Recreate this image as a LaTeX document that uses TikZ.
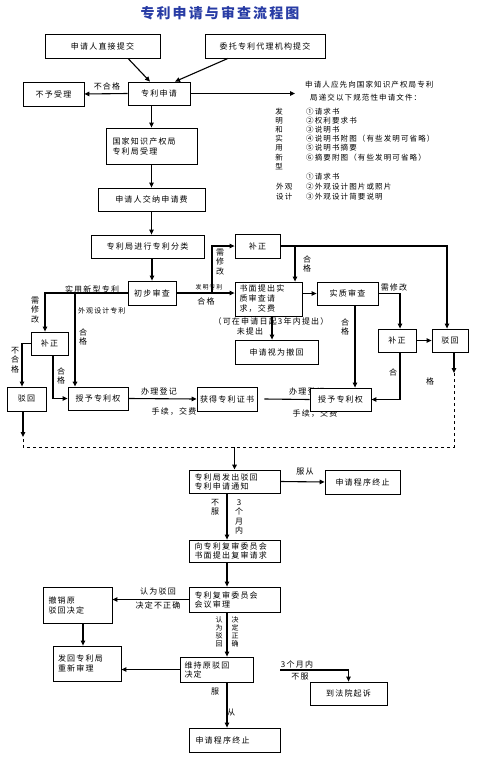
\documentclass[tikz,border=0pt]{standalone}
\usepackage{fontspec}
\setmainfont{Noto Sans CJK SC}[LetterSpace=15]
\usetikzlibrary{arrows.meta}
\definecolor{titleblue}{RGB}{40,60,165}
\newcommand{\fs}{\fontsize{8}{10}\selectfont}
\newcommand{\fsl}{\fontsize{7.5}{9}\selectfont}
\begin{document}
\begin{tikzpicture}[x=1pt,y=-1pt,
 box/.style={draw, line width=0.8pt, fill=white, inner sep=0pt, font=\fs},
 arr/.style={line width=1.1pt, -{Triangle[length=5pt,width=4.5pt]}},
 ln/.style={line width=1.1pt},
 lab/.style={inner sep=0pt, font=\fs},
 vlab/.style={inner sep=0pt, font=\fontsize{8}{9.5}\selectfont, align=center},
 vlabs/.style={inner sep=0pt, font=\fontsize{7}{8}\selectfont, align=center},
 lst/.style={inner sep=0pt, font=\fsl, anchor=west},
 ]
\fill[white] (0,0) rectangle (490,771);
\useasboundingbox (0,0) rectangle (490,771);

\node[font=\fontsize{14}{16}\selectfont\bfseries, text=titleblue, inner sep=0pt] (title) at (220,13) {专利申请与审查流程图};

% labels partly hidden by box
\node[lab] (l20) at (307,391) {办理登记};
\node[lab] (l21) at (315,414) {手续，交费};

% boxes
\node[box, minimum width=115pt, minimum height=24pt] (a1) at (102.5,46) {申请人直接提交};
\node[box, minimum width=120pt, minimum height=24pt] (a2) at (265,46) {委托专利代理机构提交};
\node[box, minimum width=62pt, minimum height=23pt] (sq) at (159,93.5) {专利申请};
\node[box, minimum width=61pt, minimum height=24pt] (by) at (53.5,94) {不予受理};
\node[box, minimum width=91pt, minimum height=36pt, align=left, text width=78pt] (gj) at (151.5,146) {国家知识产权局\\专利局受理};
\node[box, minimum width=107pt, minimum height=23pt] (jn) at (151.5,199.5) {申请人交纳申请费};
\node[box, minimum width=113pt, minimum height=23pt] (fl) at (147.5,246.5) {专利局进行专利分类};
\node[box, minimum width=48pt, minimum height=24pt] (cb) at (152,293) {初步审查};
\node[box, minimum width=45pt, minimum height=24pt] (bz1) at (257.5,246) {补正};
\node[box, minimum width=67pt, minimum height=34pt, align=left, text width=58pt] (sm) at (268.5,299) {书面提出实\\质审查请\\求，交费};
\node[box, minimum width=83pt, minimum height=24pt] (sw) at (276.5,352) {申请视为撤回};
\node[box, minimum width=61pt, minimum height=23pt] (sz) at (347.5,293.5) {实质审查};
\node[box, minimum width=38pt, minimum height=23pt] (bz2) at (397,340.5) {补正};
\node[box, minimum width=36pt, minimum height=23pt] (bh2) at (450,340.5) {驳回};
\node[box, minimum width=37pt, minimum height=23pt] (bz3) at (49.5,343.5) {补正};
\node[box, minimum width=39pt, minimum height=24pt] (bh1) at (26.5,399) {驳回};
\node[box, minimum width=60pt, minimum height=23pt] (sq1) at (98,398.5) {授予专利权};
\node[box, minimum width=60pt, minimum height=24pt] (zs) at (227,399) {获得专利证书};
\node[box, minimum width=61pt, minimum height=23pt] (sq2) at (340.5,399.5) {授予专利权};
\node[box, minimum width=91pt, minimum height=23pt, align=left, text width=80pt, font=\fontsize{8}{9}\selectfont] (tz) at (234.5,481.5) {专利局发出驳回\\专利申请通知};
\node[box, minimum width=75pt, minimum height=24pt] (zz1) at (362.5,482) {申请程序终止};
\node[box, minimum width=91pt, minimum height=22pt, align=left, text width=80pt, font=\fontsize{8}{9}\selectfont] (fs) at (234.5,551) {向专利复审委员会\\书面提出复审请求};
\node[box, minimum width=91pt, minimum height=25pt, align=left, text width=80pt, font=\fontsize{8}{9}\selectfont] (hy) at (234.5,599.5) {专利复审委员会\\会议审理};
\node[box, minimum width=73pt, minimum height=25pt, align=left, text width=64pt, font=\fontsize{8}{9}\selectfont] (wc) at (216.5,669.5) {维持原驳回\\决定};
\node[box, minimum width=69pt, minimum height=36pt, align=left, text width=58pt] (cx) at (77.5,605) {撤销原\\驳回决定};
\node[box, minimum width=68pt, minimum height=35pt, align=left, text width=58pt] (fh) at (87,663.5) {发回专利局\\重新审理};
\node[box, minimum width=91pt, minimum height=24pt, align=left, text width=78pt] (zz2) at (234.5,740) {申请程序终止};
\node[box, minimum width=77pt, minimum height=23pt] (fy) at (348.5,693.5) {到法院起诉};

% top connectors
\draw[arr] ([xshift=25.5pt]a1.south) -- ([xshift=-9pt]sq.north);
\draw[arr] ([xshift=-37pt]a2.south) -- ([xshift=16pt]sq.north);
\draw[arr] (sq.west) -- (by.east);
\node[lab] (l1) at (107,86) {不合格};
\coordinate (r1) at (295,93.5);
\draw[arr] (sq.east) -- (r1);
\draw[arr] (sq.south -| gj.north) -- (gj.north);
\draw[arr] (gj.south) -- (jn.north);
\draw[arr] (jn.south) -- (jn.south |- fl.north);
\draw[arr] (cb.north |- fl.south) -- (cb.north);

% right text block
\node[lst] (t1) at (305,85) {申请人应先向国家知识产权局专利};
\node[lst] (t2) at (310,98) {局递交以下规范性申请文件：};
\node[lab, font=\fsl] (v1) at (279,112) {发};
\node[lab, font=\fsl] (v2) at (279,120.5) {明};
\node[lab, font=\fsl] (v3) at (279,129.5) {和};
\node[lab, font=\fsl] (v4) at (279,138.5) {实};
\node[lab, font=\fsl] (v5) at (279,148) {用};
\node[lab, font=\fsl] (v6) at (279,158) {新};
\node[lab, font=\fsl] (v7) at (279,167) {型};
\node[lst] (i1) at (306,112) {①请求书};
\node[lst] (i2) at (306,120.5) {②权利要求书};
\node[lst] (i3) at (306,129.5) {③说明书};
\node[lst] (i4) at (306,138.5) {④说明书附图（有些发明可省略）};
\node[lst] (i5) at (306,148) {⑤说明书摘要};
\node[lst] (i6) at (306,158) {⑥摘要附图（有些发明可省略）};
\node[lst] (i7) at (306,177) {①请求书};
\node[lst] (i8) at (306,187) {②外观设计图片或照片};
\node[lst] (i9) at (306,197) {③外观设计简要说明};
\node[lst] (w1) at (276,187) {外观};
\node[lst] (w2) at (276,197) {设计};

% middle
\draw[arr] (cb.east) -- (cb.east -| sm.west);
\coordinate (j1) at (212,293);
\draw[arr] (j1) |- (bz1.west);
\node[vlab] (l2) at (220,262) {需\\修\\改};
\node[lab, font=\fontsize{6}{7}\selectfont] (l3) at (209,287) {发明专利};
\node[lab] (l4) at (206,301) {合格};
\draw[arr] (bz1.east) -| ([xshift=-3pt]bh2.north);
\coordinate (j2) at (295,246);
\draw[arr] (j2) -- (j2 |- sm.north);
\node[vlab] (l5) at (307,264) {合\\格};
\draw[arr] ([xshift=3.5pt]sm.south) -- ([xshift=-4.5pt]sw.north);
\node[lab] (l6) at (271,321) {（可在申请日起3年内提出）};
\node[lab] (l7) at (250,331) {未提出};
\draw[arr] (sz.west -| sm.east) -- (sz.west);
\draw[arr] (sz.east) -| ([xshift=3pt]bz2.north);
\node[lab] (l8) at (394,287) {需修改};
\draw[arr] ([xshift=7.5pt]sz.south) -- ([xshift=14.5pt]sq2.north);
\node[vlab] (l9) at (345,327) {合\\格};
\draw[arr] (bz2.east) -- (bh2.west);
\draw[arr] ([xshift=3pt]bz2.south) |- (sq2.east);
\node[lab] (l10) at (393,372) {合};
\node[lab] (l11) at (430,381) {格};
\coordinate (d1) at (454,373);
\draw[arr] ([xshift=4pt]bh2.south) -- (d1);
\coordinate (d2) at (454,447);
\coordinate (d3) at (23,447);
\coordinate (d5) at (23,437);
\draw[dashed, line width=0.8pt] (d1) -- (d2) -- (d3) -- (d5);
\draw[arr] ([xshift=-3.5pt]bh1.south) -- (d5);
\coordinate (d4) at (234.5,447);
\draw[arr, line width=1.6pt] (d4) -- (tz.north);

% left
\draw[arr] (cb.west) -| ([xshift=-4.5pt]bz3.north);
\node[lab] (l12) at (92,289) {实用新型专利};
\node[vlab] (l13) at (35,310) {需\\修\\改};
\coordinate (j3) at (75,293);
\draw[arr, line width=1.8pt] (j3) -- (j3 |- sq1.north);
\node[lab, anchor=west, font=\fontsize{7}{8}\selectfont] (l14) at (78,311) {外观设计专利};
\node[vlab] (l15) at (83,337) {合\\格};
\draw[arr] (bz3.west) -| ([xshift=-4.5pt]bh1.north);
\node[vlab] (l16) at (15,360) {不\\合\\格};
\draw[arr] ([xshift=3.5pt]bz3.south) |- (sq1.west);
\node[vlab] (l17) at (61,376) {合\\格};
\draw[arr] (sq1.east) -- (zs.west);
\node[lab] (l18) at (159,391) {办理登记};
\node[lab] (l19) at (174,412) {手续，交费};
\draw[ln] ([xshift=7pt]zs.east) -- (sq2.west);

% lower
\draw[arr] (tz.east) -- (zz1.west);
\node[lab] (l22) at (305,472) {服从};
\draw[arr] ([xshift=-7.5pt]tz.south) -- ([xshift=-7.5pt]fs.north);
\node[vlab] (l23) at (215,507) {不\\服};
\node[vlab] (l24) at (239,517) {3\\个\\月\\内};
\draw[arr] ([xshift=-7.5pt]fs.south) -- ([xshift=-7.5pt]hy.north);
\draw[arr] ([xshift=-7.5pt]hy.south) -- ([xshift=10.5pt]wc.north);
\node[vlabs] (l25) at (219,632) {认\\为\\驳\\回};
\node[vlabs] (l26) at (235,632) {决\\定\\正\\确};
\draw[arr] (hy.west) -- (hy.west -| cx.east);
\node[lab] (l27) at (158,591) {认为驳回};
\node[lab] (l28) at (158,605) {决定不正确};
\draw[arr] ([xshift=5.5pt]cx.south) -- ([xshift=-4pt]fh.north);
\draw[arr] (wc.west) -- (wc.west -| fh.east);
\draw[arr] ([xshift=10.5pt]wc.south) -- ([xshift=-7.5pt]zz2.north);
\node[lab] (l29) at (215,692) {服};
\node[lab] (l30) at (231,713) {从};
\coordinate (c1) at (280,670);
\draw[arr] (c1) -| (fy.north);
\node[lab] (l31) at (297,664) {3个月内};
\node[lab] (l32) at (300,677) {不服};
\end{tikzpicture}
\end{document}
